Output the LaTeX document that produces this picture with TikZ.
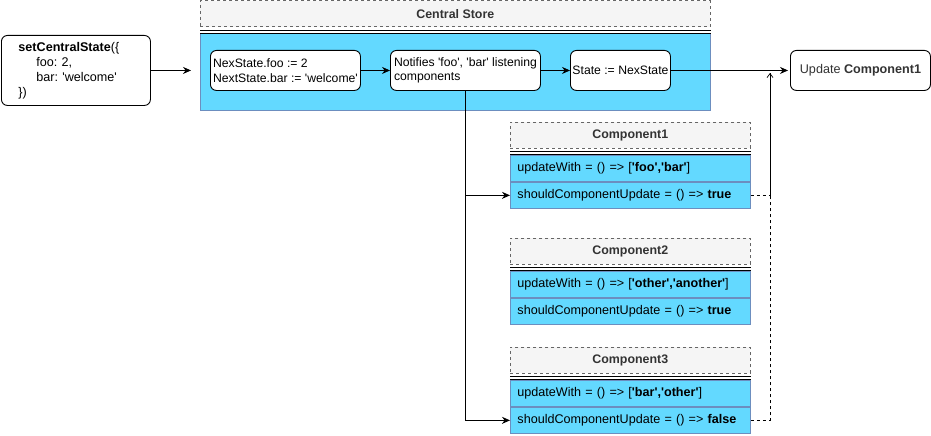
\documentclass[tikz,border=0pt]{standalone}
\usepackage{fontspec}
\setmainfont{Liberation Sans}[Ligatures=TeXOff]
\definecolor{storeblue}{RGB}{99, 217, 255}
\definecolor{edgeblue}{RGB}{108, 142, 191}
\definecolor{headgray}{RGB}{245, 245, 245}
\definecolor{dashgray}{RGB}{102, 102, 102}
\definecolor{textgray}{RGB}{51, 51, 51}
\usetikzlibrary{arrows.meta, positioning, calc}
\frenchspacing

\tikzset{
  codebox/.style={draw, rounded corners=6pt, fill=white, align=left, anchor=north west, inner xsep=3pt, inner ysep=0pt, minimum height=40pt},
  lanehead/.style={draw=dashgray, line width=0.6pt, dash pattern=on 3pt off 3pt, fill=headgray, text=textgray, font=\fontsize{12.4}{14}\selectfont\bfseries, anchor=north west, minimum height=26pt, inner sep=0pt},
  methodrow/.style={draw=edgeblue, fill=storeblue, anchor=north west, minimum height=26pt, text width=226pt, inner xsep=7pt, inner ysep=0pt, align=left},
  flow/.style={-{Stealth[length=8pt, width=7pt]}},
  feedback/.style={line width=0.7pt, dash pattern=on 3pt off 3pt},
}

\begin{document}
\begin{tikzpicture}[x=1pt, y=-1pt, font=\fontsize{12.6}{15}\selectfont, line width=0.9pt]
  \useasboundingbox (0,0) rectangle (931,436);

  % Caller
  \node[codebox, inner xsep=17pt, text width=115pt, minimum height=70pt] (setstate) at (1,35) {
    \textbf{setCentralState}(\{\\
    \hspace*{18pt}foo: 2,\\
    \hspace*{18pt}bar: 'welcome'\\
    \})
  };

  % Central store
  \node[lanehead, minimum width=510pt] (storehead) at (200,0.5) {Central Store};
  \node[draw=edgeblue, fill=storeblue, anchor=north west, minimum width=510pt, minimum height=77pt, inner sep=0pt] (storebody) at (200,33) {};
  \draw ([yshift=-3pt]storehead.south west) -- ([yshift=-3pt]storehead.south east);
  \draw (storebody.north west) -- (storebody.north east);

  \node[codebox, inner xsep=2pt, minimum width=150pt, font=\fontsize{12.2}{14.5}\selectfont] (nexstate) at (210,50) {
    NexState.foo := 2\\
    NextState.bar := 'welcome'
  };
  \node[codebox, inner xsep=2pt, minimum width=150pt, font=\fontsize{12.2}{14.5}\selectfont] (notify) at (390,50) {
    Notifies 'foo', 'bar' listening\\
    components
  };
  \node[codebox, inner xsep=2pt, minimum width=100pt, font=\fontsize{12.2}{14.5}\selectfont] (state) at (570,50) {State := NexState};

  % Result
  \node[codebox, align=center, text=textgray, minimum width=140pt] (update) at (790,50) {Update \textbf{Component1}};

  % Components
  \foreach \n/\top/\keys/\res in {1/122/{'foo','bar'}/true, 2/238/{'other','another'}/true, 3/347/{'bar','other'}/false} {
    \node[lanehead, minimum width=240pt] (c\n head) at (510,\top) {Component\n};
    \draw ([yshift=-3pt]c\n head.south west) -- ([yshift=-3pt]c\n head.south east);
    \draw ([yshift=-6pt]c\n head.south west) -- ([yshift=-6pt]c\n head.south east);
    \node[methodrow] (c\n with) at (510,\top+33) {updateWith = () => [\textbf{\keys}]};
    \node[methodrow] (c\n upd) at (c\n with.south west) {shouldComponentUpdate = () => \textbf{\res}};
  }

  % Connectors
  \draw[flow, shorten >=9pt] (setstate.east) -- (setstate.east -| storebody.west);
  \draw[flow] (nexstate) -- (notify);
  \draw[flow] (notify) -- (state);
  \draw[flow, shorten >=2pt] (state) -- (update);
  \draw[flow] (notify.south) |- (c1upd.west);
  \draw[flow] (notify.south) |- (c3upd.west);

  \coordinate (join) at (770,73);
  \draw[feedback] (c1upd.east) -| (join);
  \draw[feedback, -{Straight Barb[length=4pt, width=6pt]}] (c3upd.east) -| (join);
\end{tikzpicture}
\end{document}
